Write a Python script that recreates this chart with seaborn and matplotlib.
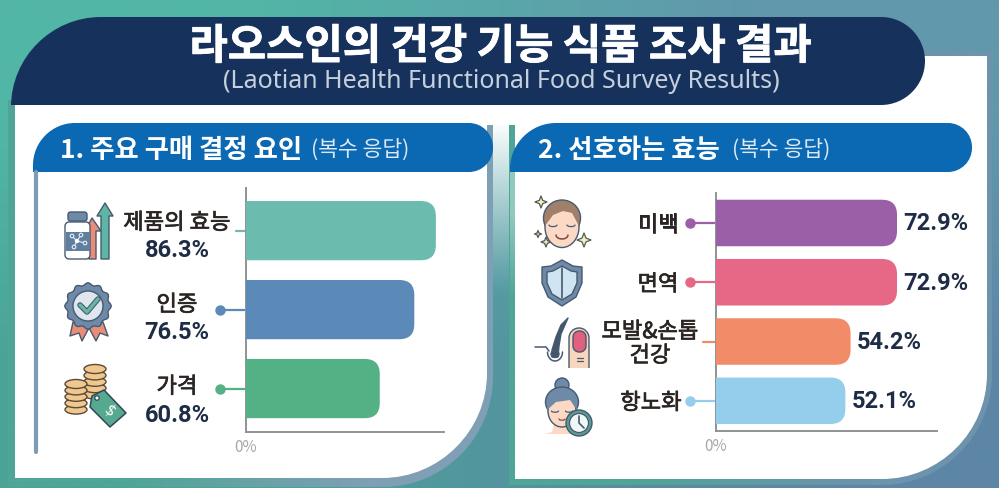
import numpy as np
import pandas as pd
import matplotlib
matplotlib.use('Agg')
import matplotlib.pyplot as plt
import matplotlib.patheffects as pe
import seaborn as sns
from matplotlib.path import Path
from matplotlib.patches import PathPatch, Polygon, Circle, Ellipse, Rectangle, FancyBboxPatch

# data
factor_names = ['제품의 효능', '인증', '가격']
factor_values = [86.3, 76.5, 60.8]
factor_colors = ['#6bbcae', '#5b8ab8', '#54b085']

benefit_names = ['미백', '면역', '모발&손톱\n건강', '항노화']
benefit_values = [72.9, 72.9, 54.2, 52.1]
benefit_colors = ['#9a5fa6', '#e66786', '#f28c68', '#95cdec']

title = '라오스인의 건강 기능 식품 조사 결과'
subtitle = '(Laotian Health Functional Food Survey Results)'
left_title = '1. 주요 구매 결정 요인'
right_title = '2. 선호하는 효능'
multi_note = '(복수 응답)'

W, H = 999, 488
KR = ['Noto Sans CJK KR', 'DejaVu Sans']
NUM = ['Roboto', 'DejaVu Sans']
NAVY = '#1e2d45'
INK = '#2a2522'
LINE = '#465a70'

sns.set_theme(style='white')
plt.rcParams['font.family'] = KR

fig = plt.figure(figsize=(W / 100, H / 100), dpi=100)
bg = fig.add_axes([0, 0, 1, 1], zorder=0)


def round_path(x0, y0, x1, y1, tl=0, tr=0, br=0, bl=0):
    k = 0.45
    verts = [(x0 + tl, y0), (x1 - tr, y0),
             (x1 - tr * k, y0), (x1, y0 + tr * k), (x1, y0 + tr),
             (x1, y1 - br),
             (x1, y1 - br * k), (x1 - br * k, y1), (x1 - br, y1),
             (x0 + bl, y1),
             (x0 + bl * k, y1), (x0, y1 - bl * k), (x0, y1 - bl),
             (x0, y0 + tl),
             (x0, y0 + tl * k), (x0 + tl * k, y0), (x0 + tl, y0),
             (x0 + tl, y0)]
    codes = [Path.MOVETO, Path.LINETO] + [Path.CURVE4] * 3 + [Path.LINETO] + [Path.CURVE4] * 3 + \
            [Path.LINETO] + [Path.CURVE4] * 3 + [Path.LINETO] + [Path.CURVE4] * 3 + [Path.CLOSEPOLY]
    return Path(verts, codes)


def shape(path, color, z=2):
    p = PathPatch(path, fc=color, ec='none', zorder=z)
    bg.add_patch(p)
    return p


def grad_shape(path, c0, c1, extent, z=1):
    # horizontal gradient clipped to a path
    p = PathPatch(path, fc='none', ec='none', transform=bg.transData)
    bg.add_patch(p)
    cols = np.array([[matplotlib.colors.to_rgb(c0), matplotlib.colors.to_rgb(c1)]])
    im = bg.imshow(cols, extent=extent, aspect='auto', interpolation='bilinear', zorder=z)
    im.set_clip_path(p)


# background
c = lambda s: matplotlib.colors.to_rgb(s)
corners = np.array([[c('#52b6a6'), c('#6198ac')], [c('#49a497'), c('#5d86a6')]])
bg.imshow(corners, extent=(0, W, H, 0), aspect='auto', interpolation='bilinear', zorder=0)

# cards
grad_shape(round_path(8, 100, 493, 487, br=110), '#4fa597', '#7f9fb5', (8, 493, 487, 100))
shape(round_path(15, 100, 487, 478, br=105), 'white', 2)
grad_shape(round_path(509, 51, 992, 485, br=110), '#4fa597', '#6d93ad', (509, 992, 485, 51))
shape(round_path(515, 56, 987, 479, br=105), 'white', 2)

# white strip and the fade between the two cards
shape(round_path(480, 100, 520, 125), 'white', 2)
fade = np.ones((60, 1, 4))
fade[:, 0, 3] = np.linspace(1, 0, 60) ** 1.2
bg.imshow(fade, extent=(493, 509, 300, 120), aspect='auto', zorder=1.5)
# light top of the teal edge on panel 2
edge = np.array([[c('#8fcabd')], [c('#4fa597')]])
bg.imshow(edge, extent=(509.5, 515, 340, 172), aspect='auto', interpolation='bilinear', zorder=1.5)

# header
shape(round_path(11, 17, 925, 105, tl=90, tr=44, br=44), '#16325c', 3)
bg.text(501, 47, title, color='white', fontsize=30, fontweight='bold', ha='center', va='center', zorder=4,
        path_effects=[pe.withStroke(linewidth=0.6, foreground='white')])
bg.text(501, 81, subtitle, color='#c5d0dc', fontsize=18, ha='center', va='center', zorder=4,
        family=['Noto Sans', 'DejaVu Sans'])

# section headers
shape(round_path(33, 123, 493, 172, tl=42, tr=24, br=24), '#0b68b3', 3)
shape(round_path(510, 123, 972, 172, tl=46, tr=24, br=24), '#0b68b3', 3)
bg.text(60, 150, left_title, color='white', fontsize=19, fontweight='bold', va='center', zorder=4)
bg.text(311, 150, multi_note, color='#dce8f3', fontsize=15.5, va='center', zorder=4)
bg.text(538, 150, right_title, color='white', fontsize=19, fontweight='bold', va='center', zorder=4)
bg.text(732, 150, multi_note, color='#dce8f3', fontsize=15.5, va='center', zorder=4)

# left rule of panel 1
bg.plot([36, 36], [172, 452], color='#7d9db5', lw=3, solid_capstyle='round', zorder=3)


def poly(pts, fc, z=5, ec=LINE, lw=1.0):
    bg.add_patch(Polygon(pts, closed=True, fc=fc, ec=ec, lw=lw, zorder=z, joinstyle='round'))


def box(x0, y0, x1, y1, r, fc, z=5, ec=LINE, lw=1.0):
    bg.add_patch(PathPatch(round_path(x0, y0, x1, y1, r, r, r, r), fc=fc, ec=ec, lw=lw, zorder=z))


def sparkle(x, y, r, z=5):
    s = r * 0.28
    pts = [(x, y - r), (x + s, y - s), (x + r, y), (x + s, y + s), (x, y + r), (x - s, y + s), (x - r, y), (x - s, y - s)]
    poly(pts, '#f1eebf', z, '#4d5a50', 0.9)


def icon_bottle():
    poly([(92, 218), (101, 231), (96, 231), (96, 259), (89, 259), (89, 231), (85, 231)], '#e88d78', 5)
    box(65, 222, 90, 259, 4, 'white', 6)
    box(68, 212, 87, 221, 2.5, '#6e8aa8', 7)
    bg.add_patch(Rectangle((65.5, 232), 24, 19, fc='#5f7f9f', ec='none', zorder=7))
    nodes = [(72, 236), (81, 235), (77, 241), (85, 243), (74, 247)]
    for n in nodes[:2] + nodes[3:]:
        bg.plot([nodes[2][0], n[0]], [nodes[2][1], n[1]], color='#e8edf3', lw=0.8, zorder=8)
        bg.add_patch(Circle(n, 1.8, fc='#5f7f9f', ec='#e8edf3', lw=0.8, zorder=9))
    bg.add_patch(Circle(nodes[2], 2.2, fc='white', ec='none', zorder=9))
    poly([(105, 203), (113, 216), (109, 216), (109, 259), (101, 259), (101, 216), (97, 216)], '#5fb5a3', 5)


def icon_badge():
    cx, cy = 88, 306
    poly([(73, 322), (70, 336), (79, 333), (82, 341), (90, 326)], '#e88d78', 5)
    poly([(103, 322), (108, 336), (100, 333), (96, 341), (88, 326)], '#e88d78', 5)
    ang = np.radians(np.arange(0, 360, 5))
    r = 22 + 1.3 * np.cos(12 * ang)
    poly(np.c_[cx + r * np.cos(ang), cy + r * np.sin(ang)], '#6e8aa8', 6)
    bg.add_patch(Circle((cx, cy), 15, fc='#dfe6ee', ec=LINE, lw=1, zorder=7))
    bg.plot([80, 87, 98], [305, 312, 299], color=LINE, lw=4, zorder=8, solid_capstyle='round')
    bg.plot([80, 87, 98], [305, 312, 299], color='#66b8a5', lw=2.4, zorder=9, solid_capstyle='round')


def icon_coins():
    for cx, top, n, z0 in [(95, 364, 5, 5), (76, 379, 5, 10)]:
        for i in range(n - 1, -1, -1):
            y = top + i * 6.4
            bg.add_patch(Ellipse((cx, y + 5), 22, 9, fc='#f0c78c', ec='#5b4a3c', lw=1, zorder=z0 + n - i))
    poly([(92, 396), (104, 390), (126, 413), (110, 427), (90, 407)], '#55a98f', 20, '#33475a', 1.1)
    bg.add_patch(Circle((97, 398), 2.2, fc='white', ec='#33475a', lw=0.9, zorder=21))
    bg.text(110, 411, '$', color='white', fontsize=11, ha='center', va='center', rotation=-40, zorder=21,
            family=['DejaVu Sans'])


def icon_face():
    cx, cy = 562, 224
    bg.add_patch(Ellipse((cx, cy - 6), 37, 36, fc='#a07f6b', ec=LINE, lw=1, zorder=5))
    bg.add_patch(Ellipse((cx, cy + 3), 34, 41, fc='#fbd9c4', ec=LINE, lw=1, zorder=6))
    poly([(cx - 17, cy + 2), (cx - 17, cy - 10), (cx - 8, cy - 20), (cx + 8, cy - 20), (cx + 17, cy - 10),
          (cx + 17, cy + 2), (cx + 10, cy - 11), (cx + 1, cy - 13), (cx - 9, cy - 9)], '#a07f6b', 7, 'none', 0)
    t = np.linspace(0, np.pi, 12)
    for ex in (cx - 9, cx + 9):
        bg.plot(ex + 4 * np.cos(t), cy + 1 + 1.6 * np.sin(t), color=LINE, lw=0.9, zorder=8)
    bg.plot(cx + 6 * np.cos(t), cy + 11 + 4 * np.sin(t), color='#7b4a42', lw=1.1, zorder=8)
    for x, y, r in [(541, 202, 6), (538, 234, 3.5), (546, 242, 5), (584, 240, 7)]:
        sparkle(x, y, r)


def icon_shield():
    cx = 562
    outer = [(cx, 260), (cx + 11, 266), (cx + 20, 267), (cx + 20, 283), (cx + 14, 297), (cx, 306), (cx - 14, 297),
             (cx - 20, 283), (cx - 20, 267), (cx - 11, 266)]
    inner = [(cx, 266), (cx + 9, 271), (cx + 15, 272), (cx + 15, 283), (cx + 10, 294), (cx, 300), (cx - 10, 294),
             (cx - 15, 283), (cx - 15, 272), (cx - 9, 271)]
    poly(outer, '#6e8aa8', 5)
    poly(inner, '#cfe5f1', 6)
    bg.plot([cx, cx], [268, 298], color=LINE, lw=1.2, zorder=7)


def icon_hair():
    bg.plot([535, 546, 549], [347, 347, 351], color=LINE, lw=1.1, zorder=5)
    t = np.linspace(np.pi, 0, 20)
    bg.plot(555 + 7.5 * np.cos(t), 352 + 9 * np.sin(t), color=LINE, lw=1.1, zorder=5)
    poly([(568, 318), (561, 325), (556, 337), (552, 350), (552, 357), (558, 357), (559, 346), (561, 334)], '#44566b', 6, LINE, 1)
    bg.add_patch(Ellipse((555, 354), 8, 7, fc='#44566b', ec=LINE, lw=1, zorder=6))
    verts = round_path(569, 328, 589, 380, 10, 10, 0, 0)
    p = PathPatch(verts, fc='#f8d5bd', ec=LINE, lw=1, zorder=7)
    bg.add_patch(p)
    p.set_clip_path(Rectangle((560, 320), 35, 48, transform=bg.transData))
    box(573, 331, 586, 352, 6, '#e0607f', 8)
    bg.plot([577, 583], [358, 358], color=LINE, lw=0.9, zorder=9)
    bg.plot([577, 583], [361, 361], color=LINE, lw=0.9, zorder=9)


def icon_woman():
    cx, cy = 562, 408
    bg.add_patch(Circle((cx, 385), 7, fc='#6e8aa8', ec=LINE, lw=1, zorder=5))
    poly([(cx - 8, cy + 16), (cx + 8, cy + 16), (cx + 10, cy + 24), (cx + 16, cy + 26), (cx - 17, cy + 26), (cx - 10, cy + 24)],
         '#fbd9c4', 5, 'none', 0)
    bg.add_patch(Ellipse((cx, cy - 6), 33, 30, fc='#6e8aa8', ec=LINE, lw=1, zorder=6))
    bg.add_patch(Ellipse((cx, cy + 3), 28, 32, fc='#fbd9c4', ec=LINE, lw=1, zorder=7))
    poly([(cx - 15, cy + 2), (cx - 14, cy - 10), (cx, cy - 19), (cx + 14, cy - 10), (cx + 15, cy + 2), (cx + 8, cy - 8), (cx - 6, cy - 6)],
         '#6e8aa8', 8, 'none', 0)
    t = np.linspace(0, np.pi, 12)
    for ex in (cx - 7, cx + 7):
        bg.plot(ex + 3.5 * np.cos(t), cy + 3 + 1.2 * np.sin(t), color=LINE, lw=0.9, zorder=9)
    bg.plot(cx + 3 * np.cos(t), cy + 11 + 1.2 * np.sin(t), color='#7b4a42', lw=0.9, zorder=9)
    bg.add_patch(Circle((579, 423), 13, fc='#5b9b92', ec=LINE, lw=1, zorder=10))
    bg.add_patch(Circle((579, 423), 9.5, fc='#f1f6f6', ec=LINE, lw=0.9, zorder=11))
    bg.plot([579, 579, 584], [416, 423, 428], color=LINE, lw=1.2, zorder=12)


for draw in [icon_bottle, icon_badge, icon_coins, icon_face, icon_shield, icon_hair, icon_woman]:
    draw()

bg.set_xlim(0, W)
bg.set_ylim(H, 0)
bg.axis('off')


def bar_panel(rect, names, values, colors, xmax, ylim, width, radius):
    x0, y0, x1, y1 = rect
    ax = fig.add_axes([x0 / W, 1 - y1 / H, (x1 - x0) / W, (y1 - y0) / H], zorder=2)
    ax.patch.set_alpha(0)
    df = pd.DataFrame({'name': names, 'value': values})
    sns.barplot(data=df, x='value', y='name', hue='name', palette=colors, legend=False,
                orient='h', width=width, saturation=1, ax=ax)
    ax.set_xlim(0, xmax)
    ax.set_ylim(*ylim)
    px_x = (x1 - x0) / xmax
    px_y = (y1 - y0) / abs(ylim[0] - ylim[1])
    # swap the square bars for ones with a rounded end
    for bar in list(ax.patches):
        bx, by, bw, bh = bar.get_x(), bar.get_y(), bar.get_width(), bar.get_height()
        ax.add_patch(FancyBboxPatch((bx - 20, by), bw + 20, bh,
                                    boxstyle=f'round,pad=0,rounding_size={radius / px_x}',
                                    mutation_aspect=px_x / px_y, fc=bar.get_facecolor(), ec='none', zorder=3))
        bar.remove()
    sns.despine(ax=ax)
    for side in ['left', 'bottom']:
        ax.spines[side].set_color('#8f9396')
        ax.spines[side].set_linewidth(1.4)
    ax.set_xlabel('')
    ax.set_ylabel('')
    ax.set_yticks([])
    ax.set_xticks([0])
    ax.set_xticklabels(['0%'])
    ax.tick_params(axis='x', length=0, pad=5, labelsize=11, labelcolor='#a5a8aa')
    return ax, px_x


def connector(ax, i, length, color, px_x, dot=True):
    ax.plot([-length / px_x, 0], [i, i], color=color, lw=1.6, clip_on=False, zorder=2)
    if dot:
        ax.plot([-length / px_x], [i], 'o', color=color, ms=6.5, clip_on=False, zorder=2)


def label(ax, i, text, dx, dy, **kw):
    ax.annotate(text, xy=(0, i), xytext=(dx, dy), textcoords='offset pixels', ha='center', va='center',
                annotation_clip=False, **kw)


# labels are a bit heavier than regular, a thin stroke does it
heavy = [pe.withStroke(linewidth=0.5, foreground=INK)]

# panel 1
ax1, px1 = bar_panel((246, 188, 444, 432), factor_names, factor_values, factor_colors,
                     90, (2.55, -0.54), 0.75, 15)
stubs1 = [10, 26, 26]
name_dy1 = [8, 5, 2]
val_dy1 = [-20, -23, -27]
for i, (name, val, col) in enumerate(zip(factor_names, factor_values, factor_colors)):
    connector(ax1, i, stubs1[i], col, px1, dot=i > 0)
    label(ax1, i, name, -69, name_dy1[i], color=INK, fontsize=16, path_effects=heavy)
    label(ax1, i, f'{val}%', -69, val_dy1[i], color=NAVY, fontsize=17, fontweight='bold', family=NUM)

# panel 2
ax2, px2 = bar_panel((716, 193, 937, 431), benefit_names, benefit_values, benefit_colors,
                     89, (3.51, -0.506), 0.785, 15)
stubs2 = [26, 26, 13, 26]
text_x = [-58, -58, -66, -65]
for i, (name, val, col) in enumerate(zip(benefit_names, benefit_values, benefit_colors)):
    connector(ax2, i, stubs2[i], col, px2, dot=i != 2)
    label(ax2, i, name, text_x[i], -2, color=INK, fontsize=16, linespacing=1.05, path_effects=heavy)
    ax2.annotate(f'{val}%', xy=(val, i), xytext=(6, -1), textcoords='offset pixels', ha='left', va='center',
                 color=NAVY, fontsize=17, fontweight='bold', family=NUM, annotation_clip=False)

fig.savefig('out.png', dpi=100)
